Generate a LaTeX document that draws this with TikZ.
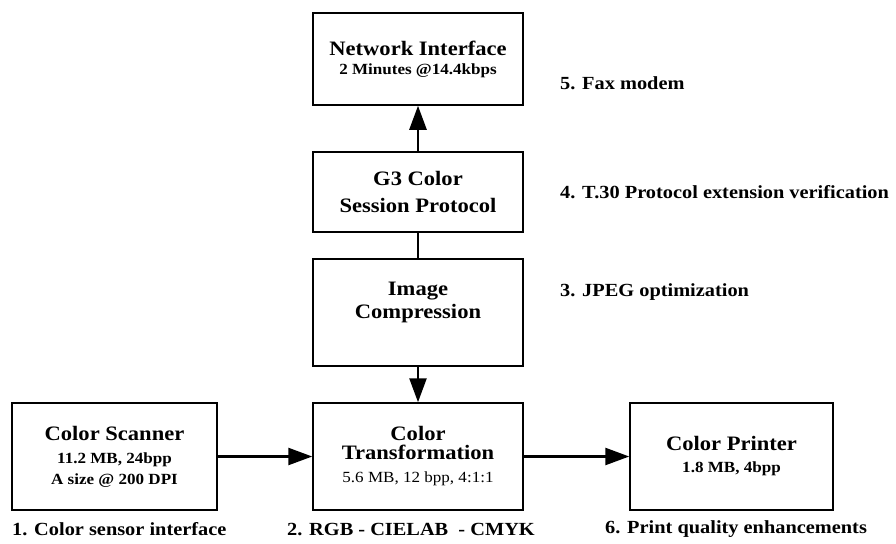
\documentclass[tikz,border=0pt]{standalone}
\usepackage{fontspec}
\setmainfont[FakeStretch=1.1]{Liberation Serif}
\usetikzlibrary{arrows.meta}

\newcommand{\titlefont}{\fontsize{20.5}{23}\selectfont\bfseries}
\newcommand{\subfont}{\fontsize{15.5}{19}\selectfont\bfseries}
\newcommand{\stepfont}{\fontsize{18.5}{20}\selectfont\bfseries}

\begin{document}
\begin{tikzpicture}[x=1pt, y=-1pt]
        \tikzstyle{block}=[draw, line width=1.5pt, align=center, inner sep=0pt, minimum width=210pt, minimum height=107pt, font=\subfont]
        \tikzstyle{flow}=[line width=2.5pt, -{Triangle[length=24pt,width=17pt]}]
        \tikzstyle{note}=[anchor=west, inner sep=0pt, font=\stepfont]

        \useasboundingbox (0,0) rectangle (896,543);

% The blocks of the colour fax chain, from scanner to printer.

        \node[block, minimum height=92pt] (net) at (418,59) {{\titlefont Network Interface}\\2 Minutes @14.4kbps};
        \node[block, minimum height=80pt, font=\titlefont] (g3) at (418,192) {G3 Color\\[4pt]Session Protocol};
        \node[block, font=\titlefont] (comp) at (418,312.5) {Image\\Compression\\[2pt]};
        \node[block] (trans) at (418,456.5) {{\titlefont Color}\\{\titlefont Transformation}\\[4pt]{\mdseries 5.6 MB, 12 bpp, 4:1:1}};
        \node[block, minimum width=205pt] (scan) at (114.5,456.5) {{\titlefont Color Scanner}\\[4pt]11.2 MB, 24bpp\\[2pt]A size @ 200 DPI};
        \node[block, minimum width=203pt] (print) at (731.5,456.5) {{\titlefont Color Printer}\\[3pt]1.8 MB, 4bpp};

        \draw[flow] (scan) -- (trans);
        \draw[flow] (trans) -- (print);
        \draw[flow] (comp) -- (trans);
        \draw[line width=2pt] (comp) -- (g3);
        \draw[flow] (g3) -- (net);

% The numbered steps beside and below the blocks.

        \node[note] (step5) at (560,83) {5. Fax modem};
        \node[note] (step4) at (560,192) {4. T.30 Protocol extension verification};
        \node[note] (step3) at (560,292) {3. JPEG optimization};
        \node[note] (step1) at (12,529) {1. Color sensor interface};
        \node[note] (step2) at (287,529) {2. RGB - CIELAB \ - CMYK};
        \node[note] (step6) at (605,529) {6. Print quality enhancements};

    \end{tikzpicture}
\end{document}
